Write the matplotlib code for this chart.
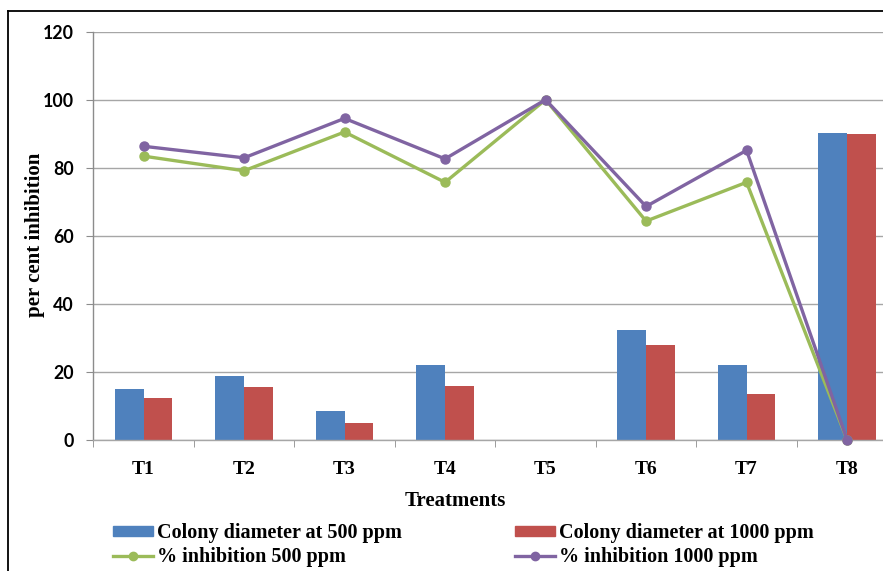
import matplotlib
matplotlib.use("Agg")
import matplotlib.pyplot as plt
import numpy as np
from matplotlib.lines import Line2D
from matplotlib.patches import Patch

categories = ["T1", "T2", "T3", "T4", "T5", "T6", "T7", "T8"]
colony_500 = [14.8, 18.7, 8.5, 21.9, 0, 32.2, 21.9, 90.1]
colony_1000 = [12.3, 15.4, 4.8, 15.7, 0, 27.9, 13.4, 89.9]
inhib_500 = [83.4, 79.1, 90.5, 75.7, 100, 64.3, 75.7, 0]
inhib_1000 = [86.3, 82.9, 94.5, 82.6, 100, 68.6, 85.1, 0]
yticks = [0, 20, 40, 60, 80, 100, 120]

W, H = 883, 571
fig = plt.figure(figsize=(W / 100, H / 100), dpi=100)
fig.patch.set_facecolor("white")

left_px, right_px, top_px, bot_px = 93.3, 897.3, 31.7, 439.7
ax = fig.add_axes([left_px / W, 1 - bot_px / H, (right_px - left_px) / W, (bot_px - top_px) / H])

x = np.arange(len(categories))
bw = 0.2857
blue, red, green, purple = "#4F81BD", "#C0504D", "#9BBB59", "#8064A2"
ax.bar(x - bw / 2, colony_500, bw, color=blue, zorder=2)
ax.bar(x + bw / 2, colony_1000, bw, color=red, zorder=2)
ax.plot(x, inhib_500, color=green, lw=2.4, marker="o", ms=6.5, zorder=3, clip_on=False)
ax.plot(x, inhib_1000, color=purple, lw=2.4, marker="o", ms=6.5, zorder=4, clip_on=False)

ax.set_xlim(-0.5, 7.5)
ax.set_ylim(0, 120)
ax.set_yticks(yticks)
ax.yaxis.grid(True, color="#a6a6a6", lw=1.0, zorder=0)
ax.set_axisbelow(True)
for s in ["top", "right"]:
    ax.spines[s].set_visible(False)
ax.spines["left"].set_color("#8c8c8c")
ax.spines["bottom"].set_color("#a6a6a6")
ax.spines["left"].set_linewidth(1.0)
ax.spines["bottom"].set_linewidth(1.0)

ax.set_xticks(x)
ax.set_xticklabels(categories, fontfamily="Liberation Serif", fontweight="bold", fontsize=14)
ax.set_xticks(np.arange(-0.5, 8.0, 1.0), minor=True)
ax.tick_params(axis="x", which="major", length=0, pad=15)
ax.tick_params(axis="x", which="minor", length=5, color="#8c8c8c", direction="out")
ax.tick_params(axis="y", length=5, color="#8c8c8c", direction="out", pad=9)
for lab in ax.get_yticklabels():
    lab.set_fontfamily("Lato")
    lab.set_fontweight("bold")
    lab.set_fontsize(12.8)

fig.text(35 / W, 1 - 235 / H, "per cent inhibition", rotation=90, ha="center", va="center",
         fontfamily="Liberation Serif", fontweight="bold", fontsize=15)
fig.text(455 / W, 1 - 501 / H, "Treatments", ha="center", va="center",
         fontfamily="Liberation Serif", fontweight="bold", fontsize=15)

font = dict(family="Liberation Serif", weight="bold", size=14.5)
h1 = [Patch(color=blue), Line2D([], [], color=green, lw=2.4, marker="o", ms=6)]
h2 = [Patch(color=red), Line2D([], [], color=purple, lw=2.4, marker="o", ms=6)]
common = dict(loc="upper left", frameon=False, borderpad=0, borderaxespad=0,
              handlelength=2.0, handleheight=0.4, handletextpad=0.2, labelspacing=0.22, prop=font)
fig.legend(h1, ["Colony diameter at 500 ppm", "% inhibition 500 ppm"],
           bbox_to_anchor=(113 / W, 1 - 523 / H), **common)
fig.legend(h2, ["Colony diameter at 1000 ppm", "% inhibition 1000 ppm"],
           bbox_to_anchor=(515 / W, 1 - 523 / H), **common)

# outer border (cut on right and bottom)
bx, by = 8 / W, 1 - 11 / H
fig.add_artist(Line2D([bx, bx], [0, by], transform=fig.transFigure, color="black", lw=1.3))
fig.add_artist(Line2D([bx, 1.0], [by, by], transform=fig.transFigure, color="black", lw=1.3))

fig.savefig("out.png", dpi=100, facecolor="white")
